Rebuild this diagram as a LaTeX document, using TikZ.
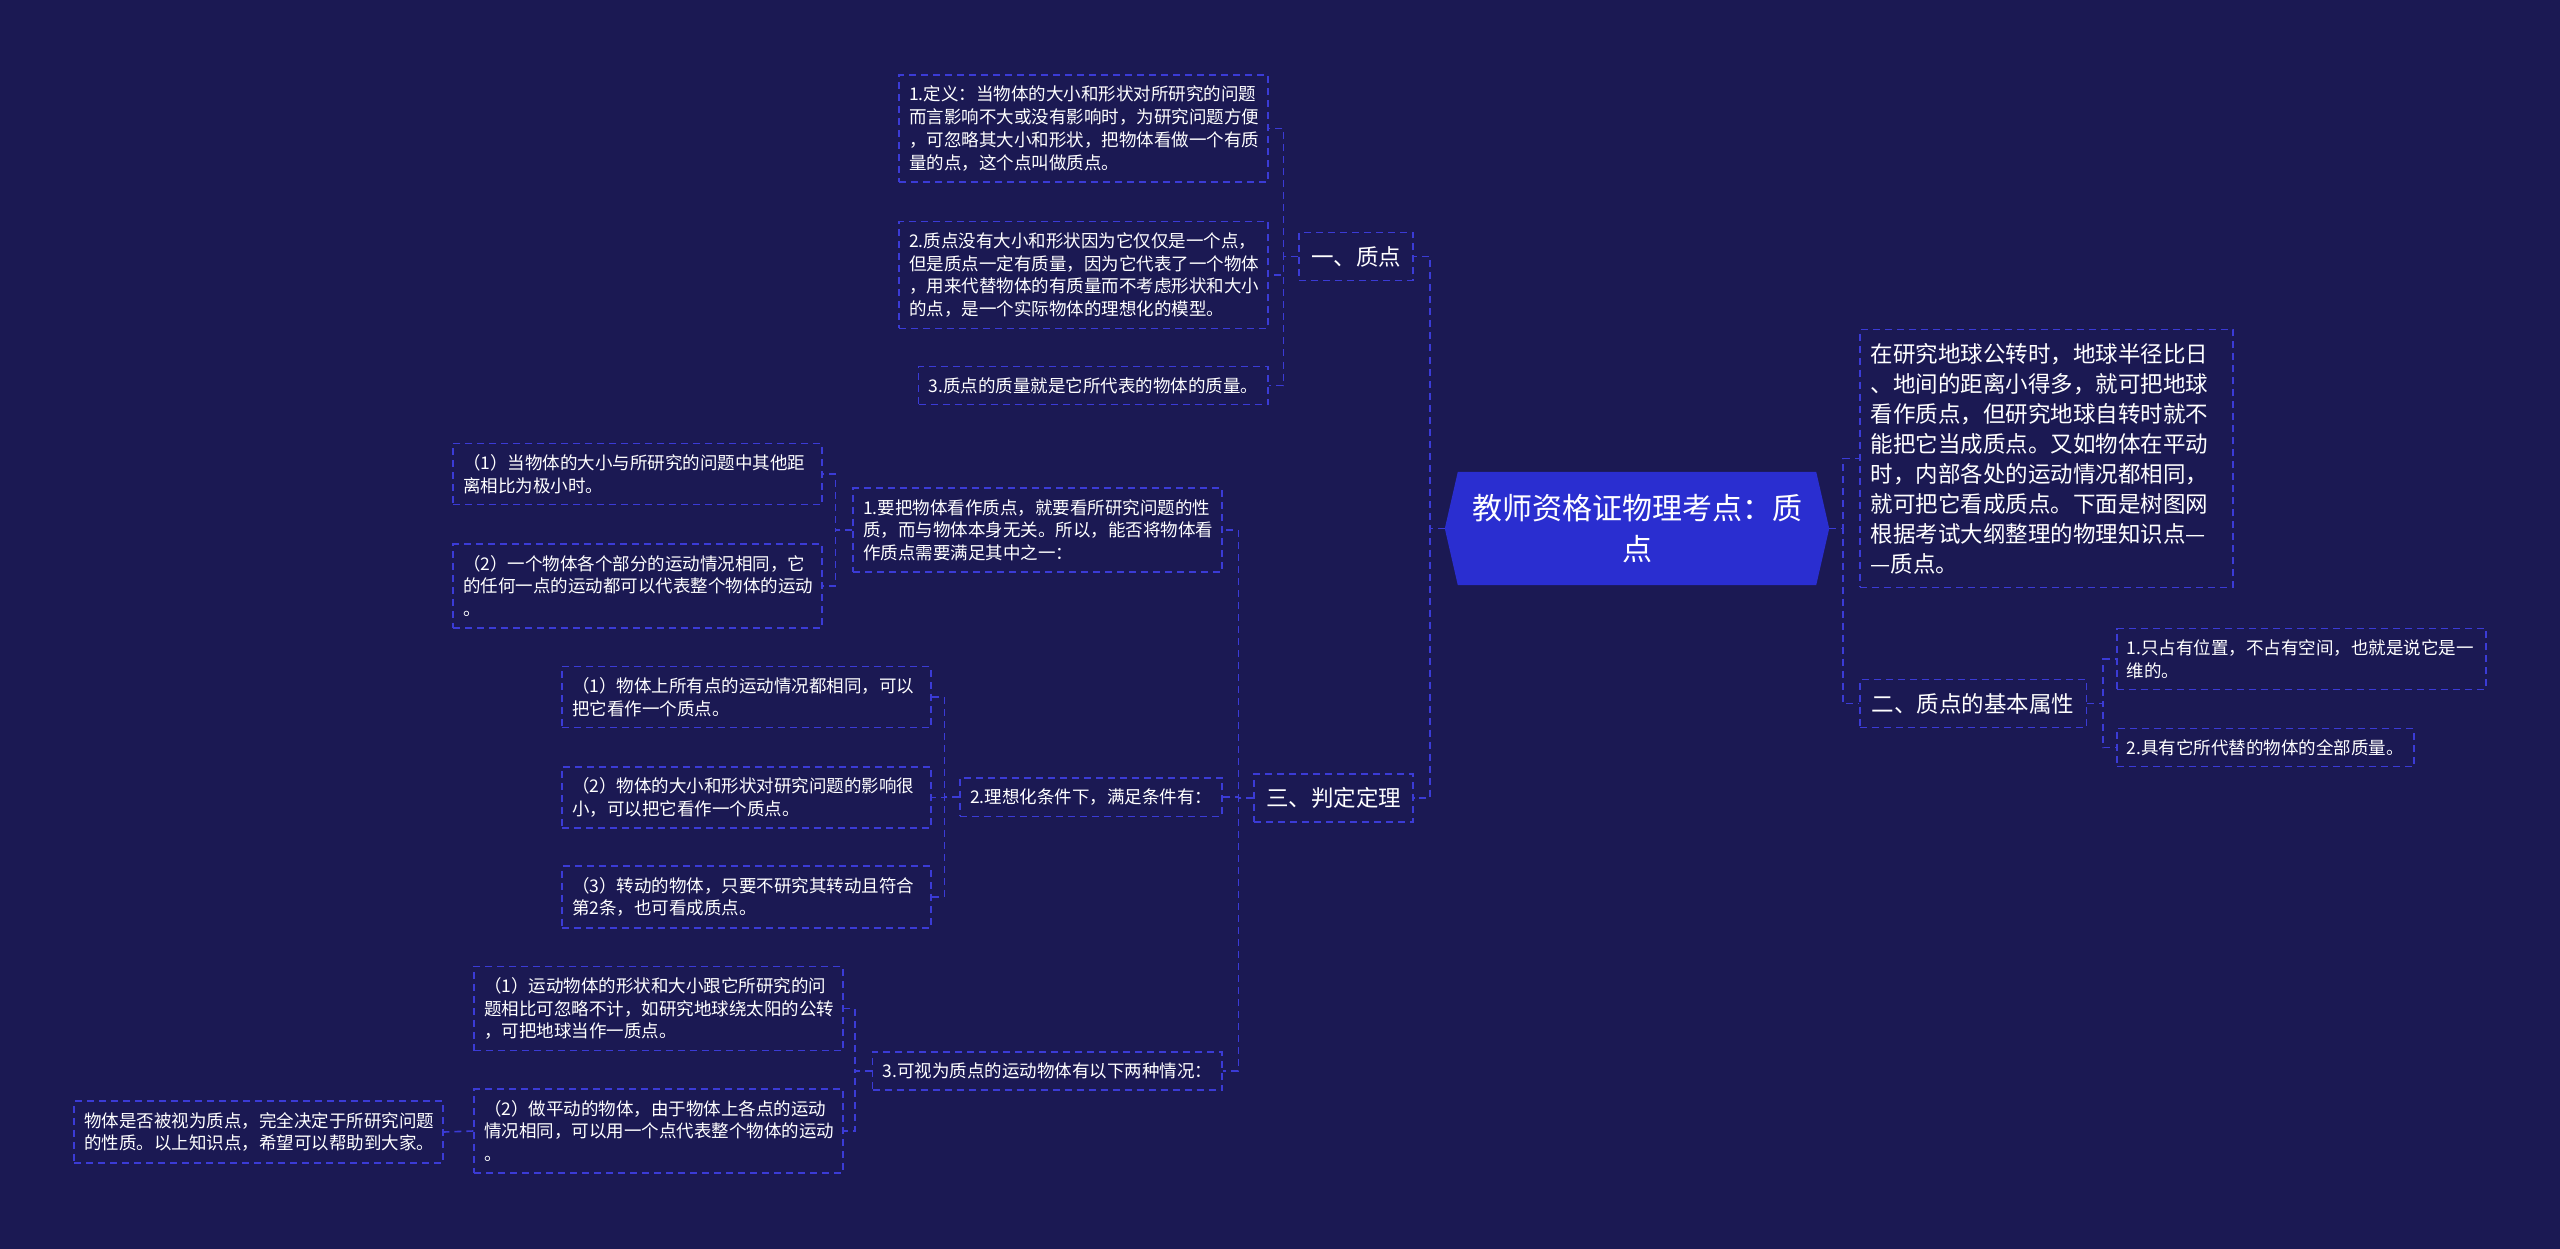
\documentclass[tikz,border=0pt]{standalone}
\usepackage{fontspec}
\setmainfont{Noto Sans CJK SC}
\usetikzlibrary{backgrounds,calc}
\definecolor{bgc}{HTML}{1B1953}
\definecolor{rootc}{HTML}{2A2ED0}
\definecolor{linec}{HTML}{3B3BD6}
\begin{document}
\begin{tikzpicture}[x=1pt,y=-1pt,
  conn/.style={draw=linec, line width=1.6pt, dash pattern=on 7pt off 5pt},
  box/.style={draw=linec, line width=1.6pt, dash pattern=on 7pt off 5pt, text=white,
    inner xsep=10pt, inner ysep=11pt, font=\fontsize{17.5}{22.7}\selectfont, align=left},
  boxw/.style={box, text width=349pt},
  lone/.style={draw=linec, line width=1.6pt, dash pattern=on 7pt off 5pt, text=white,
    inner xsep=12pt, inner ysep=13.5pt, font=\fontsize{22.5}{30}\selectfont},
  bigbox/.style={box, font=\fontsize{22.5}{30}\selectfont, inner xsep=11pt, inner ysep=13.5pt, text width=351pt},
  rootnode/.style={text=white, align=center, font=\fontsize{30}{41}\selectfont,
    minimum width=384pt, minimum height=113pt, inner sep=0pt}
]
\begin{scope}[on background layer]
\fill[bgc] (0,0) rectangle (2560,1249);
\end{scope}
\useasboundingbox (0,0) rectangle (2560,1249);

% root
\node[rootnode] (root) at (1637,528.5) {教师资格证物理考点：质\\点};
\begin{scope}[on background layer]
\fill[rootc] ($(root.north west)+(13,0)$) -- ($(root.north east)+(-13,0)$) -- (root.east)
  -- ($(root.south east)+(-13,0)$) -- ($(root.south west)+(13,0)$) -- (root.west) -- cycle;
\end{scope}

% level 1
\node[lone, anchor=east] (yi) at (1414,256.5) {一、质点};
\node[lone, anchor=east] (san) at (1414,798) {三、判定定理};
\node[bigbox, anchor=west] (big) at (1859,458.5) {在研究地球公转时，地球半径比日\\、地间的距离小得多，就可把地球\\看作质点，但研究地球自转时就不\\能把它当成质点。又如物体在平动\\时，内部各处的运动情况都相同，\\就可把它看成质点。下面是树图网\\根据考试大纲整理的物理知识点—\\—质点。};
\node[lone, anchor=west] (er) at (1859,703.5) {二、质点的基本属性};

% under yi
\node[boxw, anchor=east] (d1) at (1269,128.5) {1.定义：当物体的大小和形状对所研究的问题\\而言影响不大或没有影响时，为研究问题方便\\，可忽略其大小和形状，把物体看做一个有质\\量的点，这个点叫做质点。};
\node[boxw, anchor=east] (d2) at (1269,275) {2.质点没有大小和形状因为它仅仅是一个点，\\但是质点一定有质量，因为它代表了一个物体\\，用来代替物体的有质量而不考虑形状和大小\\的点，是一个实际物体的理想化的模型。};
\node[box, anchor=east] (d3) at (1269,385.5) {3.质点的质量就是它所代表的物体的质量。};

% under san
\node[boxw, anchor=east] (s1) at (1223,530) {1.要把物体看作质点，就要看所研究问题的性\\质，而与物体本身无关。所以，能否将物体看\\作质点需要满足其中之一：};
\node[box, anchor=east] (s2) at (1223,797) {2.理想化条件下，满足条件有：};
\node[box, anchor=east] (s3) at (1223,1071) {3.可视为质点的运动物体有以下两种情况：};

\node[boxw, anchor=east] (s1a) at (823,474) {（1）当物体的大小与所研究的问题中其他距\\离相比为极小时。};
\node[boxw, anchor=east] (s1b) at (823,586) {（2）一个物体各个部分的运动情况相同，它\\的任何一点的运动都可以代表整个物体的运动\\。};

\node[boxw, anchor=east] (s2a) at (932,697) {（1）物体上所有点的运动情况都相同，可以\\把它看作一个质点。};
\node[boxw, anchor=east] (s2b) at (932,797.5) {（2）物体的大小和形状对研究问题的影响很\\小，可以把它看作一个质点。};
\node[boxw, anchor=east] (s2c) at (932,897) {（3）转动的物体，只要不研究其转动且符合\\第2条，也可看成质点。};

\node[boxw, anchor=east] (s3a) at (844,1008.5) {（1）运动物体的形状和大小跟它所研究的问\\题相比可忽略不计，如研究地球绕太阳的公转\\，可把地球当作一质点。};
\node[boxw, anchor=east] (s3b) at (844,1131) {（2）做平动的物体，由于物体上各点的运动\\情况相同，可以用一个点代表整个物体的运动\\。};
\node[boxw, anchor=east] (leaf) at (444,1132) {物体是否被视为质点，完全决定于所研究问题\\的性质。以上知识点，希望可以帮助到大家。};

% under er
\node[boxw, anchor=west] (e1) at (2116,659) {1.只占有位置，不占有空间，也就是说它是一\\维的。};
\node[box, anchor=west] (e2) at (2116,747.5) {2.具有它所代替的物体的全部质量。};

% connectors
\draw[conn] (root.west) -- ++(-15,0) |- (yi.east);
\draw[conn] (root.west) -- ++(-15,0) |- (san.east);
\draw[conn] (root.east) -- ++(14,0) |- (big.west);
\draw[conn] (root.east) -- ++(14,0) |- (er.west);

\foreach \c in {d1,d2,d3} \draw[conn] (yi.west) -- ++(-15,0) |- (\c.east);
\foreach \c in {s1,s2,s3} \draw[conn] (san.west) -- ++(-15,0) |- (\c.east);
\foreach \c in {s1a,s1b} \draw[conn] (s1.west) -- ++(-17,0) |- (\c.east);
\foreach \c in {s2a,s2b,s2c} \draw[conn] (s2.west) -- ++(-15,0) |- (\c.east);
\foreach \c in {s3a,s3b} \draw[conn] (s3.west) -- ++(-17,0) |- (\c.east);
\draw[conn] (s3b.west) -- (leaf.east);
\foreach \c in {e1,e2} \draw[conn] (er.east) -- ++(16,0) |- (\c.west);
\end{tikzpicture}
\end{document}
